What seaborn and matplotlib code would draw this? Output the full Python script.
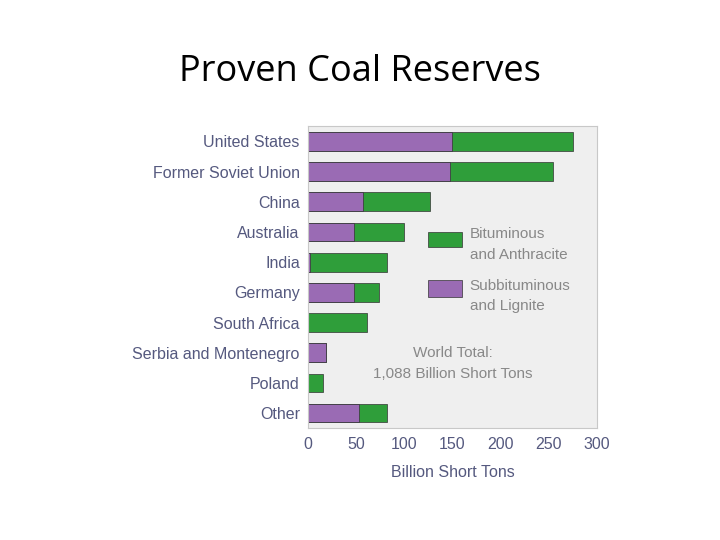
import matplotlib
matplotlib.use('Agg')
import matplotlib.pyplot as plt
import seaborn as sns
import pandas as pd

countries = ['United States', 'Former Soviet Union', 'China', 'Australia', 'India',
             'Germany', 'South Africa', 'Serbia and Montenegro', 'Poland', 'Other']
subbituminous = [149, 147, 57, 48, 2, 48, 0, 19, 0, 53]
bituminous = [126, 107, 70, 52, 80, 26, 61, 0, 15, 29]

GREEN = '#2f9e3a'
PURPLE = '#9a6bb4'
LABEL = '#55597f'

df = pd.DataFrame({'country': countries, 'sub': subbituminous,
                   'total': [s + b for s, b in zip(subbituminous, bituminous)]})

sns.set_style('white')
plt.rcParams['font.family'] = ['Liberation Sans', 'DejaVu Sans']

fig = plt.figure(figsize=(7.2, 5.4), dpi=100)
fig.text(0.5, 0.85, 'Proven Coal Reserves', ha='center', fontsize=26, color='black',
         family=['Open Sans', 'DejaVu Sans'])

ax = fig.add_axes([0.428, 0.207, 0.401, 0.559])
ax.set_facecolor('#efefef')
sns.barplot(data=df, y='country', x='total', color=GREEN, width=0.62, ax=ax,
            edgecolor='#333333', linewidth=0.5, saturation=1)
sns.barplot(data=df, y='country', x='sub', color=PURPLE, width=0.62, ax=ax,
            edgecolor='#333333', linewidth=0.5, saturation=1)

ax.set_xlim(0, 300)
ax.set_xticks([0, 50, 100, 150, 200, 250, 300])
ax.tick_params(axis='both', labelsize=11.5, colors=LABEL, length=0, pad=6)
ax.set_ylabel('')
ax.set_xlabel('Billion Short Tons', fontsize=11.5, color=LABEL, labelpad=10)
for s in ax.spines.values():
    s.set_color('#c8c8c8')

# legend
ax.add_patch(plt.Rectangle((125, 3.0), 35, 0.5, facecolor=GREEN, edgecolor='#333333', lw=0.5))
ax.add_patch(plt.Rectangle((125, 4.6), 35, 0.55, facecolor=PURPLE, edgecolor='#333333', lw=0.5))
ax.text(168, 2.85, 'Bituminous\nand Anthracite', fontsize=11, color='#888888', va='top', linespacing=1.6)
ax.text(168, 4.55, 'Subbituminous\nand Lignite', fontsize=11, color='#888888', va='top', linespacing=1.6)
ax.text(150, 7.35, 'World Total:\n1,088 Billion Short Tons', fontsize=11, color='#888888',
        ha='center', va='center', linespacing=1.6)

fig.savefig('out.png', dpi=100)
